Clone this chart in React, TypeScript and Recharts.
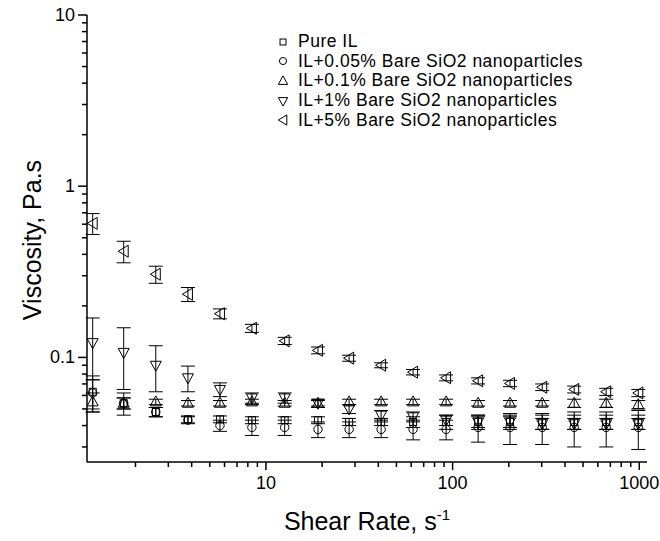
import React from "react";
import {
  ScatterChart,
  Scatter,
  XAxis,
  YAxis,
  ErrorBar,
  Legend,
} from "recharts";

// shear rate (1/s) of each measurement point
const shearRate = [1.18, 1.73, 2.57, 3.82, 5.67, 8.41, 12.6, 19.0, 27.9, 41.4, 61.4, 92.3, 137, 203, 302, 448, 665, 988];

// viscosity (Pa.s) and error per series
const pureIL = [0.063, 0.054, 0.048, 0.0435, 0.0435, 0.043, 0.043, 0.043, 0.042, 0.042, 0.042, 0.042, 0.042, 0.042, 0.042, 0.042, 0.042, 0.042];
const pureILErr = [0.015, 0.004, 0.003, 0.002, 0.002, 0.002, 0.002, 0.002, 0.002, 0.002, 0.003, 0.004, 0.004, 0.004, 0.004, 0.004, 0.004, 0.004];
const bare005 = [0.062, 0.054, 0.048, 0.043, 0.04, 0.039, 0.039, 0.038, 0.038, 0.038, 0.038, 0.038, 0.039, 0.039, 0.039, 0.039, 0.039, 0.039];
const bare005Err = [0.012, 0.008, 0.003, 0.002, 0.003, 0.004, 0.004, 0.004, 0.004, 0.004, 0.005, 0.005, 0.007, 0.008, 0.008, 0.009, 0.009, 0.01];
const bare01 = [0.055, 0.054, 0.055, 0.054, 0.054, 0.055, 0.054, 0.054, 0.055, 0.055, 0.055, 0.055, 0.054, 0.054, 0.054, 0.054, 0.054, 0.053];
const bare01Err = [0.007, 0.004, 0.002, 0.002, 0.002, 0.002, 0.002, 0.002, 0.002, 0.002, 0.002, 0.002, 0.002, 0.002, 0.002, 0.003, 0.003, 0.003];
const bare1 = [0.122, 0.107, 0.09, 0.076, 0.065, 0.058, 0.058, 0.054, 0.05, 0.046, 0.045, 0.043, 0.042, 0.042, 0.041, 0.041, 0.041, 0.041];
const bare1Err = [0.048, 0.042, 0.027, 0.013, 0.006, 0.004, 0.004, 0.003, 0.003, 0.003, 0.003, 0.003, 0.003, 0.003, 0.003, 0.003, 0.003, 0.003];
const bare5 = [0.607, 0.417, 0.306, 0.234, 0.18, 0.148, 0.125, 0.11, 0.099, 0.09, 0.082, 0.076, 0.073, 0.0705, 0.067, 0.065, 0.063, 0.062];
const bare5Err = [0.085, 0.06, 0.035, 0.022, 0.012, 0.008, 0.006, 0.005, 0.004, 0.003, 0.003, 0.003, 0.003, 0.003, 0.003, 0.003, 0.003, 0.003];

const seriesNames = [
  "Pure IL",
  "IL+0.05% Bare SiO2 nanoparticles",
  "IL+0.1% Bare SiO2 nanoparticles",
  "IL+1% Bare SiO2 nanoparticles",
  "IL+5% Bare SiO2 nanoparticles",
];

const xTicks = [2, 3, 4, 5, 6, 7, 8, 9, 10, 20, 30, 40, 50, 60, 70, 80, 90, 100, 200, 300, 400, 500, 600, 700, 800, 900, 1000];
const xMajor = [10, 100, 1000];
const yTicks = [0.03, 0.04, 0.05, 0.06, 0.07, 0.08, 0.09, 0.1, 0.2, 0.3, 0.4, 0.5, 0.6, 0.7, 0.8, 0.9, 1, 2, 3, 4, 5, 6, 7, 8, 9, 10];
const yMajor = [0.1, 1, 10];

const FONT = "'Liberation Sans', Arial, sans-serif";

type Kind = "square" | "circle" | "up" | "down" | "left";
const kinds: Kind[] = ["square", "circle", "up", "down", "left"];

function Marker({ kind, cx, cy, s = 1 }: { kind: Kind; cx: number; cy: number; s?: number }) {
  const common = { fill: "none", stroke: "#000", strokeWidth: 1 };
  if (kind === "square") return <rect x={cx - 3.5 * s} y={cy - 3.5 * s} width={7 * s} height={7 * s} {...common} />;
  if (kind === "circle") return <circle cx={cx} cy={cy} r={4.2 * s} {...common} />;
  let pts: number[][];
  if (kind === "up") pts = [[0, -6], [5.5, 4], [-5.5, 4]];
  else if (kind === "down") pts = [[0, 6], [5.5, -4], [-5.5, -4]];
  else pts = [[-5.5, 0], [4.5, -6], [4.5, 6]];
  return <polygon points={pts.map(([a, b]) => `${cx + a * s},${cy + b * s}`).join(" ")} {...common} />;
}

const makeData = (vals: number[], errs: number[]) =>
  shearRate.map((x, i) => ({ x, y: vals[i], err: errs[i] }));

const series = [
  makeData(pureIL, pureILErr),
  makeData(bare005, bare005Err),
  makeData(bare01, bare01Err),
  makeData(bare1, bare1Err),
  makeData(bare5, bare5Err),
];

const BottomTick = (props: any) => {
  const { x, y, payload } = props;
  const major = xMajor.includes(payload.value);
  return (
    <g>
      <line x1={x} x2={x} y1={y} y2={y + (major ? 8 : 5)} stroke="#000" strokeWidth={1.5} />
      {major && (
        <text x={x} y={y + 27} textAnchor="middle" fontSize={18} fontFamily={FONT} fill="#000">
          {payload.value}
        </text>
      )}
    </g>
  );
};

const TopTick = (props: any) => {
  const { x, y, payload } = props;
  const major = xMajor.includes(payload.value);
  return <line x1={x} x2={x} y1={y} y2={y + (major ? 5 : 3)} stroke="#000" strokeWidth={1} />;
};

const LeftTick = (props: any) => {
  const { x, y, payload } = props;
  const major = yMajor.includes(payload.value);
  return (
    <g>
      <line x1={x} x2={x - (major ? 9 : 5)} y1={y} y2={y} stroke="#000" strokeWidth={1.5} />
      {major && (
        <text x={x - 12} y={y + 6} textAnchor="end" fontSize={18} fontFamily={FONT} fill="#000">
          {payload.value}
        </text>
      )}
    </g>
  );
};

const RightTick = (props: any) => {
  const { x, y, payload } = props;
  const major = yMajor.includes(payload.value);
  return <line x1={x} x2={x - (major ? 5 : 3)} y1={y} y2={y} stroke="#000" strokeWidth={1} />;
};

const LegendBox = () => (
  <div style={{ fontFamily: FONT, fontSize: 17.5, letterSpacing: 0.5, color: "#000" }}>
    {seriesNames.map((name, i) => (
      <div key={name} style={{ display: "flex", alignItems: "center", height: 19.6, whiteSpace: "nowrap" }}>
        <svg width={18} height={16} style={{ marginRight: 6 }}>
          <Marker kind={kinds[i]} cx={9} cy={8} s={0.85} />
        </svg>
        <span>{name}</span>
      </div>
    ))}
  </div>
);

export default function App() {
  return (
    <div style={{ position: "absolute", left: 0, top: 0, width: 660, height: 541, background: "#fff" }}>
      <ScatterChart width={660} height={541} margin={{ top: 15, right: 13, bottom: 0, left: 0 }}>
        <XAxis
          xAxisId="b"
          dataKey="x"
          type="number"
          scale="log"
          domain={[1.1, 1100]}
          allowDataOverflow
          ticks={xTicks}
          interval={0}
          height={79}
          tickSize={0}
          tickMargin={0}
          tick={<BottomTick />}
          axisLine={{ stroke: "#000", strokeWidth: 1.5 }}
          label={{
            content: () => (
              <text x={367} y={530} textAnchor="middle" fontSize={25} fontFamily={FONT} fill="#000">
                Shear Rate, s<tspan dy={-10} fontSize={15}>-1</tspan>
              </text>
            ),
          }}
        />
        <XAxis
          xAxisId="t"
          orientation="top"
          dataKey="x"
          type="number"
          scale="log"
          domain={[1.1, 1100]}
          allowDataOverflow
          ticks={xTicks}
          interval={0}
          height={0}
          tickSize={0}
          tickMargin={0}
          tick={<TopTick />}
          axisLine={{ stroke: "#000", strokeWidth: 1.5 }}
        />
        <YAxis
          yAxisId="l"
          dataKey="y"
          type="number"
          scale="log"
          domain={[0.0245, 10]}
          allowDataOverflow
          ticks={yTicks}
          interval={0}
          width={87}
          tickSize={0}
          tickMargin={0}
          tick={<LeftTick />}
          axisLine={{ stroke: "#000", strokeWidth: 1.5 }}
          label={{
            content: () => (
              <text
                x={41}
                y={240}
                transform="rotate(-90 41 240)"
                textAnchor="middle"
                fontSize={25}
                fontFamily={FONT}
                fill="#000"
              >
                Viscosity, Pa.s
              </text>
            ),
          }}
        />
        <YAxis
          yAxisId="r"
          orientation="right"
          dataKey="y"
          type="number"
          scale="log"
          domain={[0.0245, 10]}
          allowDataOverflow
          ticks={yTicks}
          interval={0}
          width={0}
          tickSize={0}
          tickMargin={0}
          tick={<RightTick />}
          axisLine={{ stroke: "#000", strokeWidth: 1.5 }}
        />
        {series.map((data, i) => (
          <Scatter
            key={seriesNames[i]}
            name={seriesNames[i]}
            data={data}
            xAxisId="b"
            yAxisId="l"
            isAnimationActive={false}
            shape={(p: any) => <Marker kind={kinds[i]} cx={p.cx} cy={p.cy} />}
          >
            <ErrorBar dataKey="err" direction="y" width={7} stroke="#000" strokeWidth={1} isAnimationActive={false} />
          </Scatter>
        ))}
        <Legend
          layout="vertical"
          align="center"
          verticalAlign="middle"
          content={<LegendBox />}
          wrapperStyle={{ left: 274, top: 32, width: 380 }}
        />
      </ScatterChart>
    </div>
  );
}
